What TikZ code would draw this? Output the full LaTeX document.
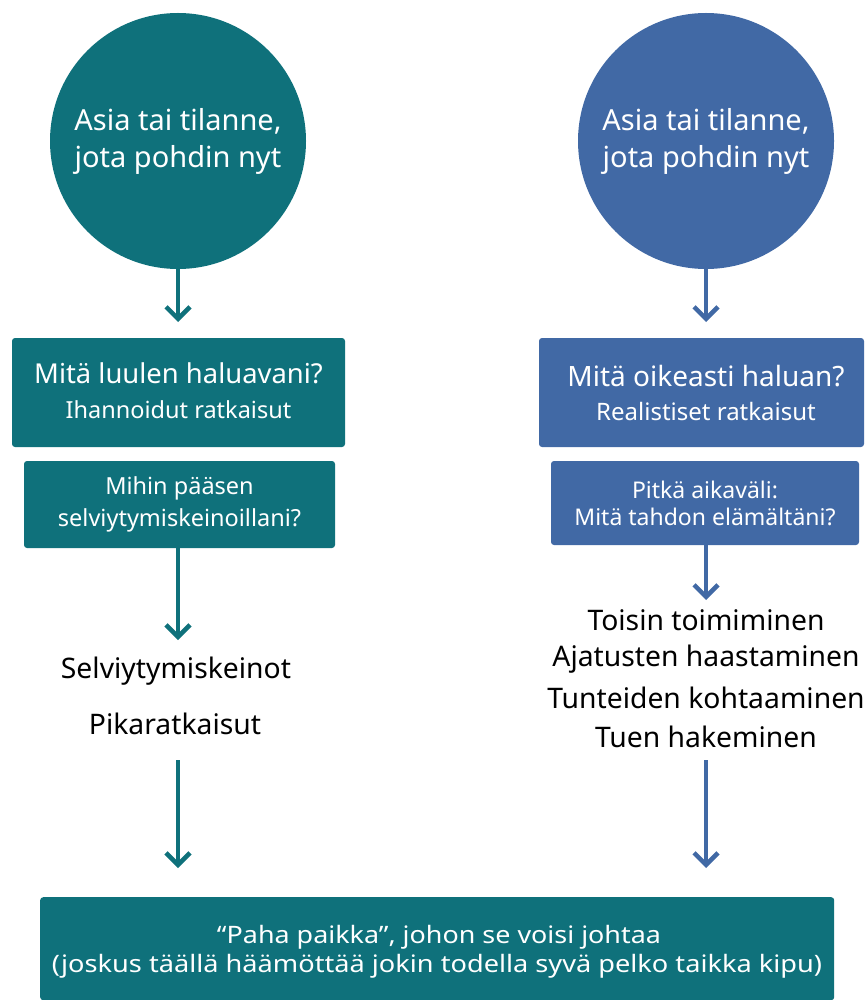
\documentclass[tikz,border=0pt]{standalone}
\usepackage{fontspec}
\setmainfont{Noto Sans}
\usetikzlibrary{arrows.meta}
\definecolor{teal}{RGB}{15,113,123}
\definecolor{blu}{RGB}{65,105,165}
\tikzset{
  circ/.style={circle,minimum size=256pt,inner sep=0pt,text=white,align=center,font=\fontsize{29}{37}\selectfont},
  box/.style={rounded corners=3pt,inner sep=0pt,text=white,align=center},
  plain/.style={inner sep=0pt,text=black,font=\fontsize{28.3}{32}\selectfont},
  arr/.style={line width=4.5pt,-{Straight Barb[length=12pt,width=24pt,line width=4.5pt]}},
}
\begin{document}
\begin{tikzpicture}[x=1pt,y=-1pt]
\useasboundingbox (0,0) rectangle (864,1000);
% circles
\node[circ,fill=teal] (c1) at (178,141) {Asia tai tilanne,\\jota pohdin nyt};
\node[circ,fill=blu] (c2) at (706,141) {Asia tai tilanne,\\jota pohdin nyt};
% left boxes
\node[box,fill=teal,minimum width=333pt,minimum height=109pt] (l1) at (178.5,392.5) {};
\node[text=white,font=\fontsize{27.4}{30}\selectfont] (l1a) at (178.5,373) {Mitä luulen haluavani?};
\node[text=white,font=\fontsize{23.5}{26}\selectfont] (l1b) at (178.5,410) {Ihannoidut ratkaisut};
\node[box,fill=teal,minimum width=311pt,minimum height=87pt,font=\fontsize{23.5}{32}\selectfont] (l2) at (179.5,504.5) {Mihin pääsen\\selviytymiskeinoillani?};
% right boxes
\node[box,fill=blu,minimum width=325pt,minimum height=109pt] (r1) at (701.5,392.5) {};
\node[text=white,font=\fontsize{28}{30}\selectfont] (r1a) at (706,376) {Mitä oikeasti haluan?};
\node[text=white,font=\fontsize{24}{26}\selectfont] (r1b) at (706,411) {Realistiset ratkaisut};
\node[box,fill=blu,minimum width=308pt,minimum height=84pt,font=\fontsize{23}{27}\selectfont] (r2) at (705,503) {Pitkä aikaväli:\\Mitä tahdon elämältäni?};
% left texts
\node[plain] (t1) at (176,671) {Selviytymiskeinot};
\node[plain] (t2) at (175,724) {Pikaratkaisut};
% right texts
\node[plain] (s1) at (706,620) {Toisin toimiminen};
\node[plain] (s2) at (706,659) {Ajatusten haastaminen};
\node[plain] (s3) at (706,698) {Tunteiden kohtaaminen};
\node[plain] (s4) at (706,737) {Tuen hakeminen};
% bottom box
\node[box,fill=teal,minimum width=794pt,minimum height=103pt,anchor=north west] (b) at (40,897) {};
\node[text=white,inner sep=0pt] (bt1) at (439,937) {\resizebox{444pt}{\height}{\fontsize{24}{28}\selectfont “Paha paikka”, johon se voisi johtaa}};
\node[text=white,inner sep=0pt] (bt2) at (437,966) {\resizebox{770pt}{\height}{\fontsize{24}{28}\selectfont (joskus täällä häämöttää jokin todella syvä pelko taikka kipu)}};
% coordinates
\coordinate (la) at (178,322);
\coordinate (lb0) at (178,548);
\coordinate (lb) at (178,640);
\coordinate (lc0) at (178,760);
\coordinate (lc) at (178,868);
\coordinate (ra) at (706,322);
\coordinate (rb0) at (706,545);
\coordinate (rb) at (706,600);
\coordinate (rc0) at (706,760);
\coordinate (rc) at (706,868);
% arrows
\draw[arr,teal] (c1.south) -- (la);
\draw[arr,teal] (lb0) -- (lb);
\draw[arr,teal] (lc0) -- (lc);
\draw[arr,blu] (c2.south) -- (ra);
\draw[arr,blu] (rb0) -- (rb);
\draw[arr,blu] (rc0) -- (rc);
\end{tikzpicture}
\end{document}
